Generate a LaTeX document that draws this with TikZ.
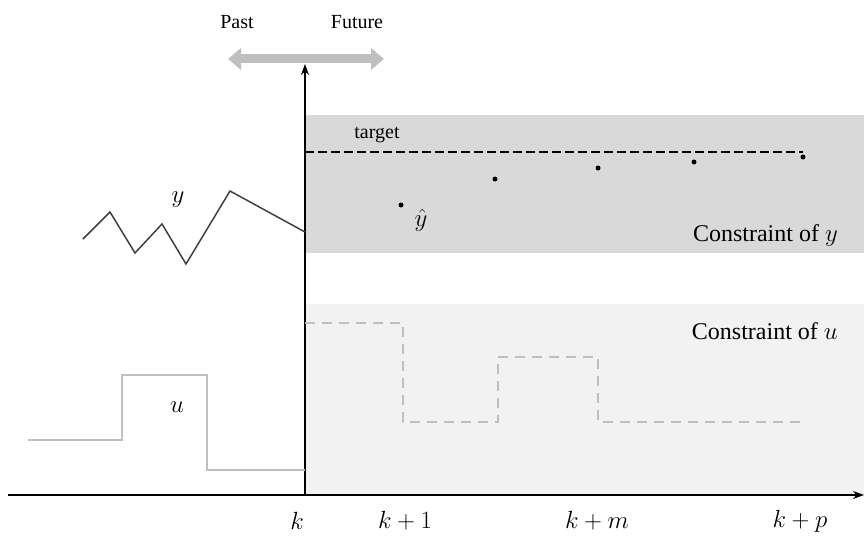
\documentclass[tikz,border=0pt]{standalone}
\usepackage{fontspec}
\setmainfont{Liberation Serif}
\usepackage{amsmath}
\usepackage{tikz}
\usetikzlibrary{arrows.meta}
\definecolor{bandy}{HTML}{D9D9D9}
\definecolor{bandu}{HTML}{F2F2F2}
\definecolor{ctrl}{HTML}{BFBFBF}
\definecolor{outp}{HTML}{404040}

\begin{document}
\begin{tikzpicture}[x=1pt, y=-1pt, >=Stealth,
	lbl/.style={inner sep=0pt, font=\fontsize{20}{24}\selectfont},
	big/.style={inner sep=0pt, font=\fontsize{24}{28}\selectfont},
	tick/.style={inner sep=0pt, font=\fontsize{26}{30}\selectfont},
	pred/.style={circle, fill=black, inner sep=0pt, minimum size=5pt},
	past/.style={line width=2.5pt, ctrl},
	future/.style={line width=2.5pt, ctrl, dash pattern=on 10pt off 7pt},
	meas/.style={line width=1.5pt, outp, line join=miter}]
	\useasboundingbox (0,0) rectangle (864,535);

	% constraint bands
	\fill[bandy] (305,115) rectangle (864,253);
	\fill[bandu] (305,304) rectangle (864,495);

	% axes
	\coordinate (k) at (305,495);
	\coordinate (xend) at (864,495);
	\coordinate (xstart) at (8,495);
	\coordinate (ytop) at (305,64);
	\draw[-{Stealth[length=11pt,width=8pt]}, line width=1.2pt] (xstart) -- (xend);
	\draw[-{Stealth[length=11pt,width=8pt]}, line width=1.2pt] (k) -- (ytop);

	% past / future
	\node[lbl] (past) at (237,22) {Past};
	\node[lbl] (fut) at (357,22) {Future};
	\coordinate (pl) at (228,59);
	\coordinate (fr) at (384,59);
	\draw[line width=9pt, ctrl, {Triangle[width=21pt,length=13pt]}-{Triangle[width=21pt,length=13pt]}] (pl) -- (fr);

	% target and predictions
	\draw[line width=2.6pt, dash pattern=on 9pt off 4pt] (305,152) -- (803,152);
	\node[lbl] (tgt) at (377,135) {target};
	\node[pred] (p1) at (401,205) {};
	\node[pred] (p2) at (495,179) {};
	\node[pred] (p3) at (598,168) {};
	\node[pred] (p4) at (694,162) {};
	\node[pred] (p5) at (803,157) {};
	\node[big] (yhat) at (421,220) {$\hat{y}$};

	% measured output
	\draw[meas] (83,239) -- (110,212) -- (135,253) -- (162,224) -- (186,264) -- (230,191) -- (305,232);
	\node[big] (ylab) at (178,200) {$y$};

	% control input
	\draw[past] (28,440) -- (122,440) -- (122,375) -- (207,375) -- (207,470) -- (305,470);
	\node[big] (ulab) at (177,407) {$u$};
	\draw[future] (305,323) -- (403,323) -- (403,422) -- (498,422) -- (498,357) -- (598,357) -- (598,422) -- (803,422);

	% constraint labels
	\node[big, anchor=east] (cy) at (838,235) {Constraint of $y$};
	\node[big, anchor=east] (cu) at (838,331) {Constraint of $u$};

	% time labels
	\node[tick] (tk) at (297,521) {$k$};
	\node[tick] (tk1) at (405,521) {$k+1$};
	\node[tick] (tkm) at (597,521) {$k+m$};
	\node[tick] (tkp) at (800,521) {$k+p$};
\end{tikzpicture}
\end{document}
